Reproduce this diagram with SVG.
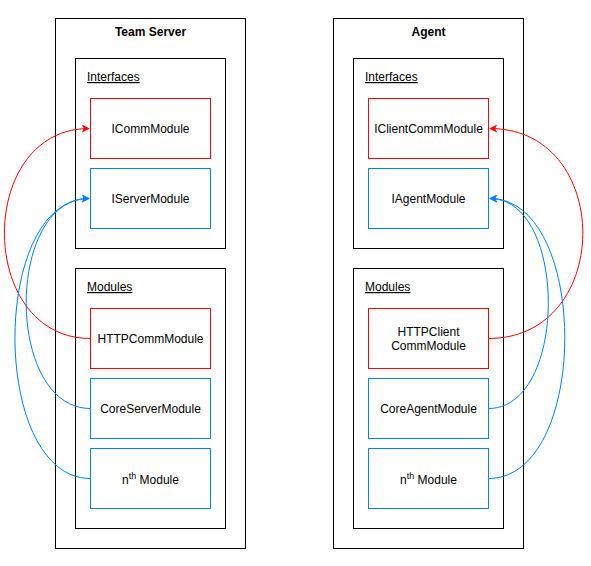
<svg xmlns="http://www.w3.org/2000/svg" width="591" height="566" viewBox="0 0 591 566">
<style>
text{font-family:"Liberation Sans",Arial,sans-serif;font-size:12px;fill:#000}
.t{font-weight:bold;text-anchor:middle}
.lbl{text-decoration:underline}
.c{text-anchor:middle}
.box{fill:#fff;stroke:#000;stroke-width:1}
.r{fill:#fff;stroke:#FF0000;stroke-width:1}
.b{fill:#fff;stroke:#007FFF;stroke-width:1}
.er{fill:none;stroke:#FF0000;stroke-width:1}
.eb{fill:none;stroke:#007FFF;stroke-width:1}
</style>
<defs>
<marker id="ar" viewBox="0 0 10 10" refX="9" refY="5" markerWidth="8" markerHeight="8" markerUnits="userSpaceOnUse" orient="auto"><path d="M0,0 L10,5 L0,10 L2.5,5 Z" fill="#FF0000"/></marker>
<marker id="ab" viewBox="0 0 10 10" refX="9" refY="5" markerWidth="8" markerHeight="8" markerUnits="userSpaceOnUse" orient="auto"><path d="M0,0 L10,5 L0,10 L2.5,5 Z" fill="#007FFF"/></marker>
</defs>
<rect width="591" height="566" fill="#fff"/>
<g id="teamserver">
<rect class="box" x="55.5" y="18.5" width="190" height="530"/>
<text class="t" x="150.5" y="36">Team Server</text>
</g>
<g id="ts-interfaces">
<rect class="box" x="75.5" y="58.5" width="150" height="190"/>
<text class="lbl" x="87" y="81">Interfaces</text>
</g>
<g id="ts-modules">
<rect class="box" x="75.5" y="268.5" width="150" height="260"/>
<text class="lbl" x="87" y="291">Modules</text>
</g>
<g id="icommmodule"><rect class="r" x="90.5" y="98.5" width="120" height="60"/><text class="c" x="150.5" y="132.5">ICommModule</text></g>
<g id="iservermodule"><rect class="b" x="90.5" y="168.5" width="120" height="60"/><text class="c" x="150.5" y="202.5">IServerModule</text></g>
<g id="httpcommmodule"><rect class="r" x="90.5" y="308.5" width="120" height="60"/><text class="c" x="150.5" y="342.5">HTTPCommModule</text></g>
<g id="coreservermodule"><rect class="b" x="90.5" y="378.5" width="120" height="60"/><text class="c" x="150.5" y="412.5">CoreServerModule</text></g>
<g id="ts-nth"><rect class="b" x="90.5" y="448.5" width="120" height="60"/><text class="c" x="150.5" y="483.5">n<tspan dy="-5" font-size="9">th</tspan><tspan dy="5"> Module</tspan></text></g>

<g id="agent">
<rect class="box" x="333.5" y="18.5" width="190" height="530"/>
<text class="t" x="428.5" y="36">Agent</text>
</g>
<g id="ag-interfaces">
<rect class="box" x="353.5" y="58.5" width="150" height="190"/>
<text class="lbl" x="365" y="81">Interfaces</text>
</g>
<g id="ag-modules">
<rect class="box" x="353.5" y="268.5" width="150" height="260"/>
<text class="lbl" x="365" y="291">Modules</text>
</g>
<g id="iclientcommmodule"><rect class="r" x="368.5" y="98.5" width="120" height="60"/><text class="c" x="428.5" y="132.5">IClientCommModule</text></g>
<g id="iagentmodule"><rect class="b" x="368.5" y="168.5" width="120" height="60"/><text class="c" x="428.5" y="202.5">IAgentModule</text></g>
<g id="httpclientcommmodule"><rect class="r" x="368.5" y="308.5" width="120" height="60"/><text class="c" x="428.5" y="335.5">HTTPClient</text><text class="c" x="428.5" y="349.5">CommModule</text></g>
<g id="coreagentmodule"><rect class="b" x="368.5" y="378.5" width="120" height="60"/><text class="c" x="428.5" y="412.5">CoreAgentModule</text></g>
<g id="ag-nth"><rect class="b" x="368.5" y="448.5" width="120" height="60"/><text class="c" x="428.5" y="483.5">n<tspan dy="-5" font-size="9">th</tspan><tspan dy="5"> Module</tspan></text></g>

<g id="connectors">
<path class="er" d="M90.5,338.5 C-24,338.5 -24,128.5 89,128.5" marker-end="url(#ar)"/>
<path class="eb" d="M90.5,408.5 C5,408.5 5,198.5 89,198.5" marker-end="url(#ab)"/>
<path class="eb" d="M90.5,478.5 C-10,478.5 -10,198.5 89,198.5" marker-end="url(#ab)"/>
<path class="er" d="M488.5,338.5 C614,338.5 614,128.5 490,128.5" marker-end="url(#ar)"/>
<path class="eb" d="M488.5,408.5 C568,408.5 568,198.5 490,198.5" marker-end="url(#ab)"/>
<path class="eb" d="M488.5,478.5 C590,478.5 590,198.5 490,198.5" marker-end="url(#ab)"/>
</g>
</svg>
